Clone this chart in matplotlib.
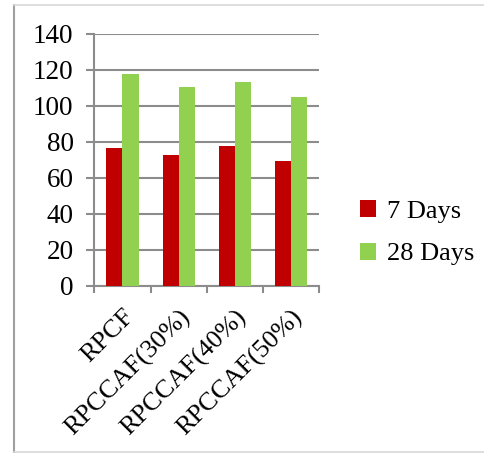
import numpy as np
import matplotlib
matplotlib.use("Agg")
import matplotlib.pyplot as plt
from matplotlib.lines import Line2D

categories = ["RPCF", "RPCCAF(30%)", "RPCCAF(40%)", "RPCCAF(50%)"]
days_7 = [76.5, 72.5, 77.5, 69.5]
days_28 = [117.5, 110.5, 113, 105]
yticks = [0, 20, 40, 60, 80, 100, 120, 140]

plt.rcParams['font.family'] = ['Liberation Serif', 'DejaVu Serif']
fs = 19

fig = plt.figure(figsize=(4.84, 4.53), dpi=100)
ax = fig.add_axes([0.195, 0.369, 0.464, 0.557])

x = np.arange(len(categories))
w = 0.286
ax.bar(x - w / 2, days_7, width=w, color="#C00000", label="7 Days", zorder=3)
ax.bar(x + w / 2, days_28, width=w, color="#92D050", label="28 Days", zorder=3)

ax.set_xlim(-0.5, len(categories) - 0.5)
ax.set_ylim(0, 140)
ax.set_yticks(yticks)
ax.set_yticklabels([str(v) for v in yticks], fontsize=fs + 0.5)
ax.yaxis.grid(True, color="#8c8c8c", linewidth=1.5, zorder=0)
ax.tick_params(axis="y", length=6, width=1.5, color="#8c8c8c", pad=9)

ax.set_xticks(x)
ax.set_xticklabels(categories, rotation=45, ha="right", rotation_mode="anchor", fontsize=fs)
ax.set_xticks(np.arange(-0.5, len(categories)), minor=True)
ax.tick_params(axis="x", which="major", length=0, pad=14)
ax.tick_params(axis="x", which="minor", length=5, width=1.5, color="#8c8c8c")

for s in ["top", "right"]:
    ax.spines[s].set_visible(False)
for s in ["left", "bottom"]:
    ax.spines[s].set_color("#8c8c8c")
    ax.spines[s].set_linewidth(1.5)

ax.legend(loc="center left", bbox_to_anchor=(1.125, 0.21), frameon=False,
          fontsize=fs, handlelength=0.6, handleheight=0.6, handletextpad=0.4,
          labelspacing=0.75, borderpad=0)

# outer frame of the original figure
fig.add_artist(Line2D([14 / 484, 14 / 484], [0, 1 - 5 / 453], transform=fig.transFigure,
                      color="#a0a0a0", linewidth=1.5))
fig.add_artist(Line2D([14 / 484, 1], [1 - 5 / 453, 1 - 5 / 453], transform=fig.transFigure,
                      color="#d8d8d8", linewidth=1.2))
fig.add_artist(Line2D([14 / 484, 1], [1.5 / 453, 1.5 / 453], transform=fig.transFigure,
                      color="#d8d8d8", linewidth=1.2))

fig.savefig("out.png", dpi=100)
